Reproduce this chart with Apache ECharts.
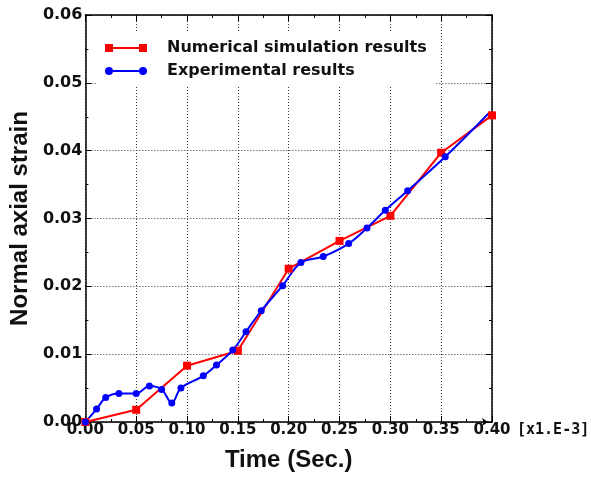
<!DOCTYPE html>
<html>
<head>
<meta charset="utf-8">
<script src="https://cdn.jsdelivr.net/npm/echarts@6/dist/echarts.min.js"></script>
<style>html,body{margin:0;padding:0;background:#fff;}#c{width:591px;height:477px;}</style>
</head>
<body>
<div id="c"></div>
<script>
var xTicks = [0, 0.05, 0.10, 0.15, 0.20, 0.25, 0.30, 0.35, 0.40];
var yTicks = [0, 0.01, 0.02, 0.03, 0.04, 0.05, 0.06];
var simX = [0, 0.05, 0.10, 0.15, 0.20, 0.25, 0.30, 0.35, 0.40];
var simY = [0, 0.0018, 0.0083, 0.0105, 0.0226, 0.0267, 0.0304, 0.0397, 0.0452];
var expX = [0, 0.011, 0.020, 0.033, 0.050, 0.063, 0.075, 0.085, 0.094, 0.116, 0.129, 0.145, 0.158, 0.173, 0.194, 0.212, 0.234, 0.259, 0.277, 0.295, 0.317, 0.354, 0.398];
var expY = [0, 0.0019, 0.0036, 0.0042, 0.0042, 0.0053, 0.0048, 0.0028, 0.0050, 0.0068, 0.0084, 0.0106, 0.0133, 0.0164, 0.0201, 0.0235, 0.0244, 0.0263, 0.0286, 0.0312, 0.0341, 0.0391, 0.0457];
var simName = 'Numerical simulation results';
var expName = 'Experimental results';
var xName = 'Time (Sec.)';
var yName = 'Normal axial strain';
var unitText = '[x1.E-3]';

var simData = simX.map(function (x, i) { return [x, simY[i]]; });
var expData = expX.map(function (x, i) {
  var item = { value: [x, expY[i]] };
  if (i === expX.length - 1) item.symbol = 'none';
  return item;
});

var axisLineStyle = { color: '#000', width: 1.5 };
var tickFont = { fontFamily: 'DejaVu Sans', fontWeight: 'bold', fontSize: 15, color: '#111' };
var gridLine = { show: true, lineStyle: { color: '#333', type: [1, 2], width: 1 } };

var chart = echarts.init(document.getElementById('c'), null, { renderer: 'canvas' });
chart.setOption({
  animation: false,
  backgroundColor: '#fff',
  grid: { left: 83, right: 99, top: 15, bottom: 55, containLabel: false },
  legend: {
    left: 97, top: 32,
    orient: 'vertical',
    backgroundColor: '#fff',
    padding: [8, 9, 8, 8],
    itemWidth: 42, itemHeight: 8, itemGap: 7,
    itemStyle: { borderWidth: 0 },
    textStyle: { fontFamily: 'DejaVu Sans', fontWeight: 'bold', fontSize: 16, color: '#111', lineHeight: 16, padding: [0, 0, 0, 15] },
    data: [
      { name: simName, icon: 'path://M0,0H8V8H0Z M8,3H34V5H8Z M34,0H42V8H34Z' },
      { name: expName, icon: 'path://M0,4A4,4,0,1,1,8,4A4,4,0,1,1,0,4Z M8,3H34V5H8Z M34,4A4,4,0,1,1,42,4A4,4,0,1,1,34,4Z' }
    ]
  },
  xAxis: [{
    type: 'value', min: xTicks[0], max: xTicks[xTicks.length - 1], interval: 0.05,
    position: 'bottom',
    name: xName, nameLocation: 'middle', nameGap: 26,
    nameTextStyle: { fontFamily: 'Liberation Sans', fontWeight: 'bold', fontSize: 24, color: '#111' },
    axisLine: { show: true, onZero: false, lineStyle: axisLineStyle, symbol: ['none', 'arrow'], symbolSize: [6, 6], symbolOffset: [0, -4] },
    axisTick: { show: true, inside: true, length: 6, lineStyle: { color: '#000' } },
    minorTick: { show: true, splitNumber: 2, length: 3, lineStyle: { color: '#000' } },
    axisLabel: Object.assign({ margin: 1, showMinLabel: true, showMaxLabel: true, formatter: function (v) { return v.toFixed(2); } }, tickFont),
    splitLine: gridLine
  }, {
    type: 'value', min: xTicks[0], max: xTicks[xTicks.length - 1], interval: 0.05,
    position: 'top',
    axisLine: { show: true, onZero: false, lineStyle: axisLineStyle },
    axisTick: { show: true, inside: true, length: 6, lineStyle: { color: '#000' } },
    minorTick: { show: true, splitNumber: 2, length: 3, lineStyle: { color: '#000' } },
    axisLabel: { show: false },
    splitLine: { show: false }
  }],
  yAxis: [{
    type: 'value', min: yTicks[0], max: yTicks[yTicks.length - 1], interval: 0.01,
    position: 'left',
    name: yName, nameLocation: 'middle', nameGap: 47,
    nameTextStyle: { fontFamily: 'Liberation Sans', fontWeight: 'bold', fontSize: 24, color: '#111' },
    axisLine: { show: true, onZero: false, lineStyle: axisLineStyle },
    axisTick: { show: true, inside: true, length: 6, lineStyle: { color: '#000' } },
    minorTick: { show: true, splitNumber: 2, length: 3, lineStyle: { color: '#000' } },
    axisLabel: Object.assign({ margin: 3, formatter: function (v) { return v.toFixed(2); } }, tickFont, { fontSize: 16 }),
    splitLine: gridLine
  }, {
    type: 'value', min: yTicks[0], max: yTicks[yTicks.length - 1], interval: 0.01,
    position: 'right',
    axisLine: { show: true, onZero: false, lineStyle: axisLineStyle },
    axisTick: { show: true, inside: true, length: 6, lineStyle: { color: '#000' } },
    minorTick: { show: true, splitNumber: 2, length: 3, lineStyle: { color: '#000' } },
    axisLabel: { show: false },
    splitLine: { show: false }
  }],
  graphic: [{
    type: 'text', left: 517, top: 423,
    style: { text: unitText, fontFamily: 'DejaVu Sans Mono', fontWeight: 'bold', fontSize: 15, fill: '#111' }
  }],
  series: [{
    name: simName, type: 'line', data: simData,
    xAxisIndex: 0, yAxisIndex: 0,
    symbol: 'rect', symbolSize: 8, showAllSymbol: true,
    lineStyle: { color: '#ff0000', width: 2 },
    itemStyle: { color: '#ff0000' }
  }, {
    name: expName, type: 'line', data: expData,
    xAxisIndex: 0, yAxisIndex: 0,
    symbol: 'circle', symbolSize: 7, showAllSymbol: true,
    smooth: 0.35,
    lineStyle: { color: '#0000ff', width: 2 },
    itemStyle: { color: '#0000ff' }
  }]
});
</script>
</body>
</html>
